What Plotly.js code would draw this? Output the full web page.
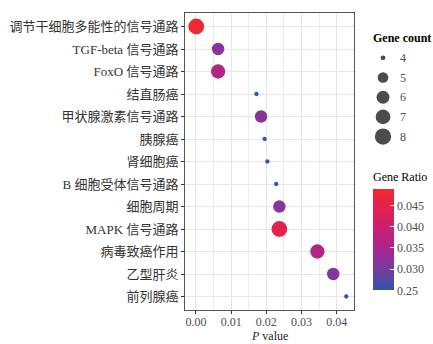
<!DOCTYPE html>
<html>
<head>
<meta charset="utf-8">
<script src="https://cdn.plot.ly/plotly-3.0.1.min.js"></script>
<style>html,body{margin:0;padding:0;background:#fff;}#chart{width:433px;height:344px;}</style>
</head>
<body>
<div id="chart"></div>
<script>
// ---- data ----
const pathways = ["调节干细胞多能性的信号通路","TGF-beta 信号通路","FoxO 信号通路","结直肠癌","甲状腺激素信号通路","胰腺癌","肾细胞癌","B 细胞受体信号通路","细胞周期","MAPK 信号通路","病毒致癌作用","乙型肝炎","前列腺癌"];
const pValues = [0.0001,0.0063,0.0063,0.0172,0.0185,0.0195,0.0203,0.0228,0.0237,0.0237,0.0345,0.0390,0.0427];
const geneCounts = [8,6,7,4,6,4,4,4,6,8,7,6,4];
const geneRatios = [0.0485,0.0315,0.0365,0.0250,0.0315,0.0250,0.0250,0.0250,0.0315,0.0445,0.0365,0.0310,0.0250];
const legendCounts = [4,5,6,7,8];
const ratioTicks = [0.025,0.030,0.035,0.040,0.045];
const ratioTickText = ["0.25","0.030","0.035","0.040","0.045"];
const xTicks = [0.00,0.01,0.02,0.03,0.04];

// ---- styling helpers ----
const cMin = 0.025, cMax = 0.0488;
const minC = Math.min(...legendCounts), maxC = Math.max(...legendCounts);
function sizePx(c){ // ggplot-like area scale, range 1..6
  const s = 1 + 5*Math.sqrt((c-minC)/(maxC-minC));
  return 2 + 2.3*s;
}
const serif = 'Liberation Serif, "Noto Sans CJK SC", serif';
const colorscale = [[0,'#2f55aa'],[0.21,'#7a3c9c'],[0.42,'#a8268f'],[0.63,'#cc1f6c'],[0.84,'#e5224a'],[1,'#f02a2e']];

const main = {
  type:'scatter', mode:'markers', x:pValues, y:pathways, xaxis:'x', yaxis:'y',
  hoverinfo:'skip', showlegend:false, cliponaxis:false,
  marker:{
    size:geneCounts.map(sizePx), color:geneRatios, colorscale:colorscale,
    cmin:cMin, cmax:cMax, opacity:1, line:{width:0},
    colorbar:{
      x:0.758, xanchor:'left', xpad:0, y:0.406, yanchor:'top', ypad:0,
      len:101, lenmode:'pixels', thickness:21, thicknessmode:'pixels',
      outlinewidth:0, tickvals:ratioTicks, ticktext:ratioTickText,
      ticks:'inside', ticklen:4, tickcolor:'#ffffff', tickwidth:1,
      tickfont:{family:serif, size:12, color:'#4d4d4d'}, title:{text:''}
    }
  }
};
const sizeLegend = {
  type:'scatter', mode:'markers', x:legendCounts.map(()=>0.328), y:legendCounts,
  xaxis:'x2', yaxis:'y2', hoverinfo:'skip', showlegend:false, cliponaxis:false,
  marker:{size:legendCounts.map(c=>sizePx(c)+0.5), color:'#000000', line:{width:0}}
};

const annotations = legendCounts.map(c=>({
  xref:'x2', yref:'y2', x:0.53, y:c, text:String(c), showarrow:false,
  xanchor:'left', yanchor:'middle', font:{family:serif, size:12, color:'#4d4d4d'}
}));
annotations.push({xref:'paper', yref:'paper', x:0.752, y:0.915, text:'<b>Gene count</b>', showarrow:false,
  xanchor:'left', yanchor:'middle', font:{family:serif, size:12, color:'#000'}});
annotations.push({xref:'paper', yref:'paper', x:0.752, y:0.447, text:'Gene Ratio', showarrow:false,
  xanchor:'left', yanchor:'middle', font:{family:serif, size:12, color:'#000'}});
annotations.push({xref:'paper', yref:'paper', x:0.3407, y:-0.0875, text:'<i>P</i> value', showarrow:false,
  xanchor:'center', yanchor:'middle', borderpad:0, font:{family:serif, size:12, color:'#222'}});

const layout = {
  width:433, height:344, paper_bgcolor:'#fff', plot_bgcolor:'#fff',
  margin:{l:185, r:0, t:13, b:34, pad:0},
  showlegend:false,
  xaxis:{
    domain:[0,0.6815], range:[-0.0031,0.0449], tickvals:xTicks, tickformat:'.2f',
    showgrid:true, gridcolor:'#e6e6e6', gridwidth:1, zeroline:false,
    minor:{dtick:0.005, tick0:0, showgrid:true, gridcolor:'#ececec', gridwidth:1},
    showline:true, mirror:true, linecolor:'#555', linewidth:1,
    ticks:'outside', ticklen:3, tickcolor:'#333', ticklabelstandoff:-2,
    tickfont:{family:serif, size:12, color:'#4d4d4d'}
  },
  yaxis:{
    type:'category', categoryorder:'array', categoryarray:pathways.slice().reverse(),
    range:[-0.6, pathways.length-0.4], showgrid:true, gridcolor:'#e6e6e6', gridwidth:1,
    zeroline:false, showline:true, mirror:true, linecolor:'#555', linewidth:1,
    ticks:'outside', ticklen:3, tickcolor:'#333',
    tickfont:{family:serif, size:13, color:'#333'}
  },
  xaxis2:{domain:[0.70,1], range:[0,1], visible:false, fixedrange:true},
  yaxis2:{domain:[0,1], range:[16.81,1.722], visible:false, anchor:'x2', fixedrange:true},
  annotations:annotations
};

Plotly.newPlot('chart',[main,sizeLegend],layout,{displayModeBar:false, staticPlot:true});
</script>
</body>
</html>
